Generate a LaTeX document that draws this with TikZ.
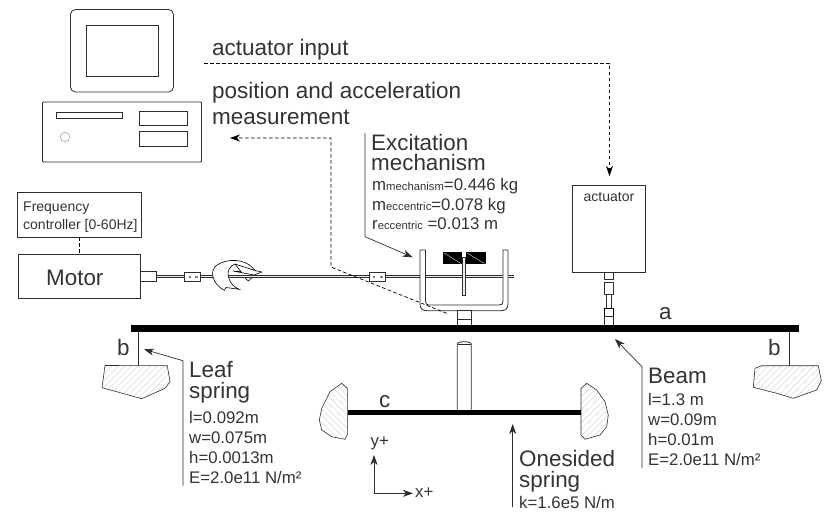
\documentclass[tikz,border=0pt]{standalone}
\usepackage{fontspec}
\setmainfont{Liberation Sans}
\usetikzlibrary{arrows.meta}
\definecolor{ink}{gray}{0.18}
\definecolor{txt}{gray}{0.2}
\tikzset{
 x=1pt,y=-1pt,
 part/.style={draw=ink,line width=0.8pt,fill=white},
 thin part/.style={draw=ink,line width=0.6pt,fill=white},
 lead/.style={draw=ink,line width=0.7pt},
 arr/.style={-{Stealth[length=10pt,width=7pt,inset=3pt]}},
 dash line/.style={draw=black,line width=0.7pt,dash pattern=on 3.5pt off 2.5pt},
 hatchline/.style={draw=gray!60,line width=0.3pt},
 label/.style={inner sep=0pt,anchor=base west,text=txt},
 big/.style={label,font=\fontsize{22.4}{24}\selectfont},
 mid/.style={label,font=\fontsize{22.5}{24}\selectfont},
 small/.style={label,font=\fontsize{16.8}{18}\selectfont},
 tiny/.style={label,font=\fontsize{14}{16}\selectfont},
}
\newcommand{\sub}[1]{{\fontsize{11.3}{11}\selectfont #1}}
\begin{document}
\begin{tikzpicture}
\useasboundingbox (0,0) rectangle (836,523);
% computer
\draw[part,rounded corners=5pt] (70.5,9.5) rectangle (173.5,92);
\draw[part] (86,25) rectangle (158,76.5);
\draw[part,rounded corners=1pt] (42.5,102) rectangle (201.5,162);
\draw[part] (56.5,112) rectangle (122,118);
\draw[part] (139.5,111) rectangle (187,125.5);
\draw[part] (139.5,131) rectangle (187,146);
\draw[draw=gray!70,line width=0.6pt] (65,137) circle (4.8);
% controller and motor
\node[part,minimum width=123.5pt,minimum height=45pt,inner sep=0pt] (fc) at (79.25,214.5) {};
\node[tiny] (fc1) at (23,211.5) {Frequency};
\node[tiny] (fc2) at (23,229.5) {controller [0-60Hz]};
\node[part,minimum width=121.5pt,minimum height=44pt,inner sep=0pt] (motor) at (79.25,276) {};
\node[big] (motort) at (46,285) {Motor};
\draw[dash line] (fc.south) -- (motor.north);
% shaft
\draw[draw=ink,line width=3pt] (156,276.7) -- (514,276.7);
\draw[draw=gray!15,line width=1.3pt] (156,276.7) -- (513.5,276.7);
\draw[part] (140,271) rectangle (156.5,281);
\draw[part] (184.5,272) rectangle (200.5,281);
\draw[part] (369,272) rectangle (385,281);
\foreach \c in {189.5,196,373.5,381}{\draw[draw=gray,line width=0.4pt] (\c-0.8,275.8) rectangle (\c+0.8,277.4);}
% rotation symbol
\draw[draw=black,line width=0.6pt,fill=white]
 (224.3,290.3) .. controls (212,284) and (209,270) .. (217,265)
 .. controls (226,259) and (245,257) .. (255,270.5)
 -- (235,264)
 .. controls (233,265) and (231,266) .. (230,268)
 .. controls (226,272) and (228,285) .. (239.3,289.3)
 -- (226,287.5) -- cycle;
\draw[draw=black,line width=0.6pt]
 (255,270.5) -- (261.7,272) -- (254,275) -- (233,271) -- (241,271.7) -- (235,264)
 (245,278) -- (248.3,281) -- (251.7,278);
% bracket
\draw[part] (420,250) -- (420,304) .. controls (420,309) and (423,310.7) .. (427,310.7) -- (501,310.7) .. controls (505,310.7) and (508,309) .. (508,304) -- (508,250) -- (503,250) -- (503,301) .. controls (503,304) and (502,305) .. (499,305) -- (429,305) .. controls (426.5,305) and (425.5,304) .. (425.5,301) -- (425.5,250) -- cycle;
\draw[draw=ink,line width=3pt] (425.5,276.7) -- (503,276.7) (508,276.7) -- (514,276.7);
\draw[draw=gray!15,line width=1.3pt] (425.5,276.7) -- (503,276.7) (508,276.7) -- (513.5,276.7);
% eccentric masses
\fill[black] (442.7,252) rectangle (462,264);
\fill[black] (466,252) rectangle (485.5,264);
\draw[white,line width=0.3pt] (444,253) -- (461,263.5) (467,253) -- (484.5,263.5);
\draw[draw=ink,fill=gray!10,line width=0.6pt] (462.7,257.5) rectangle (465.5,295.5);
% stem
\draw[part] (457,310.7) rectangle (471.5,325);
\draw[draw=ink,line width=0.6pt] (457,319) -- (471.5,319);
% actuator
\node[part,minimum width=72.5pt,minimum height=87pt,inner sep=0pt] (act) at (609,229.2) {};
\node[tiny,anchor=base] (actt) at (609,201) {actuator};
\draw[part] (604.3,272.7) rectangle (613.7,279);
\draw[part] (604.3,282) rectangle (613.7,294.7);
\draw[part] (606.5,294.7) rectangle (611.5,308.5);
\draw[draw=black,fill=white,line width=0.8pt] (604.3,308.5) rectangle (613.7,316);
\draw[part] (604.3,316) rectangle (613.7,325);
% beam
\fill[black] (130.5,325) rectangle (798.5,332);
\node[big] (la) at (659,319) {a};
% leaf springs
\coordinate (ls1) at (138.7,332);
\coordinate (ls1b) at (138.7,366);
\coordinate (ls2) at (789.7,332);
\coordinate (ls2b) at (789.7,366);
\draw[draw=ink,line width=0.7pt] (ls1) -- (ls1b);
\draw[draw=ink,line width=0.7pt] (ls2) -- (ls2b);
\node[big] (lb1) at (117,355) {b};
\node[big] (lb2) at (768,355) {b};
% wall blocks
\def\blockA{(105,365.5) -- (167.3,365.7) -- (170,381.7) -- (165,388.3) -- (141.7,398.7) -- (125,394) -- (102,387.7) -- cycle}
\def\blockB{(755,368.3) -- (761.7,365.7) -- (818.3,365.7) -- (821.3,380.7) -- (816.7,390) -- (793.3,398.3) -- (776.7,393.3) -- (753.3,387.3) -- cycle}
\def\blockC{(347.3,388.3) -- (341.7,383.3) -- (330,391.7) -- (321.7,408.3) -- (319.3,420) -- (321.7,430) -- (331.7,436.7) -- (345,439.3) -- (347.3,435) -- cycle}
\def\blockD{(581,388.3) -- (586.7,383.3) -- (596.7,390) -- (605,401.7) -- (608.3,415) -- (606.7,426.7) -- (600,435) -- (585,439.3) -- (581,435) -- cycle}
\begin{scope}\clip \blockA; \foreach \k in {0,6.5,...,120}{\draw[hatchline] (60+\k,405) -- (105+\k,360);}\end{scope}
\draw[thin part,fill=none] \blockA;
\begin{scope}\clip \blockB; \foreach \k in {0,6.5,...,120}{\draw[hatchline] (710+\k,405) -- (755+\k,360);}\end{scope}
\draw[thin part,fill=none] \blockB;
\begin{scope}\clip \blockC; \foreach \k in {0,6.5,...,100}{\draw[hatchline] (260+\k,380) -- (320+\k,440);}\end{scope}
\draw[thin part,fill=none] \blockC;
\begin{scope}\clip \blockD; \foreach \k in {0,6.5,...,120}{\draw[hatchline] (520+\k,445) -- (585+\k,380);}\end{scope}
\draw[thin part,fill=none] \blockD;
% post and spring
\draw[part] (457.3,410) -- (457.3,344) .. controls (457.3,341) and (471.3,341) .. (471.3,344) -- (471.3,410);
\draw[draw=ink,line width=0.6pt] (458,344) -- (471,344);
\fill[black] (348,410) rectangle (581,415);
\node[big] (lc) at (379,407) {c};
% computer links
\coordinate (ai0) at (204,63.3);
\coordinate (ai1) at (609.5,63.3);
\coordinate (ai2) at (609.5,176);
\draw[dash line,arr] (ai0) -- (ai1) -- (ai2);
\node[mid] (t1) at (212,55) {actuator input};
\node[mid] (t2) at (212,98) {position and acceleration};
\node[mid] (t3) at (212,124) {measurement};
\coordinate (pm0) at (446.7,313.3);
\coordinate (pm1) at (331,267);
\coordinate (pm2) at (331,138);
\coordinate (pm3) at (230,138);
\draw[dash line,arr] (pm0) -- (pm1) -- (pm2) -- (pm3);
% excitation
\coordinate (ex0) at (365,133);
\coordinate (ex1) at (365,236.7);
\coordinate (ex2) at (412.7,257.3);
\draw[lead,arr] (ex0) -- (ex1) -- (ex2);
\node[big,align=left,font=\fontsize{22.4}{20}\selectfont] (e1) at (371,170) {Excitation\\mechanism};
\node[small] (e3) at (372,190) {m\sub{mechanism}=0.446 kg};
\node[small] (e4) at (372,210) {m\sub{eccentric}=0.078 kg};
\node[small] (e5) at (372,229) {r\sub{eccentric} =0.013 m};
% leaf label
\coordinate (lf0) at (183,485.7);
\coordinate (lf1) at (183,360.7);
\coordinate (lf2) at (144,349.3);
\draw[lead,arr] (lf0) -- (lf1) -- (lf2);
\node[big] (f1) at (189,377) {Leaf};
\node[big] (f2) at (189,398) {spring};
\node[small] (f3) at (189,423) {l=0.092m};
\node[small] (f4) at (189,443) {w=0.075m};
\node[small] (f5) at (189,463) {h=0.0013m};
\node[small] (f6) at (189,483) {E=2.0e11 N/m²};
% beam label
\coordinate (bm0) at (642,468);
\coordinate (bm1) at (642,366.7);
\coordinate (bm2) at (615,339);
\draw[lead,arr] (bm0) -- (bm1) -- (bm2);
\node[big] (b1) at (648,383) {Beam};
\node[small] (b2) at (648,405) {l=1.3 m};
\node[small] (b3) at (648,425) {w=0.09m};
\node[small] (b4) at (648,445) {h=0.01m};
\node[small] (b5) at (648,465) {E=2.0e11 N/m²};
% onesided
\coordinate (os0) at (512.7,507);
\coordinate (os1) at (512.7,424);
\draw[lead,arr] (os0) -- (os1);
\node[big] (o1) at (519,466) {Onesided};
\node[big] (o2) at (519,487) {spring};
\node[small] (o3) at (519,508) {k=1.6e5 N/m};
% axes
\coordinate (ax0) at (374,493.3);
\coordinate (axy) at (374,455);
\coordinate (axx) at (413,493.3);
\draw[lead,arr] (ax0) -- (axy);
\draw[lead,arr] (ax0) -- (axx);
\node[small] (ay) at (370.5,446) {y+};
\node[small] (ax) at (415,497) {x+};
\end{tikzpicture}
\end{document}
